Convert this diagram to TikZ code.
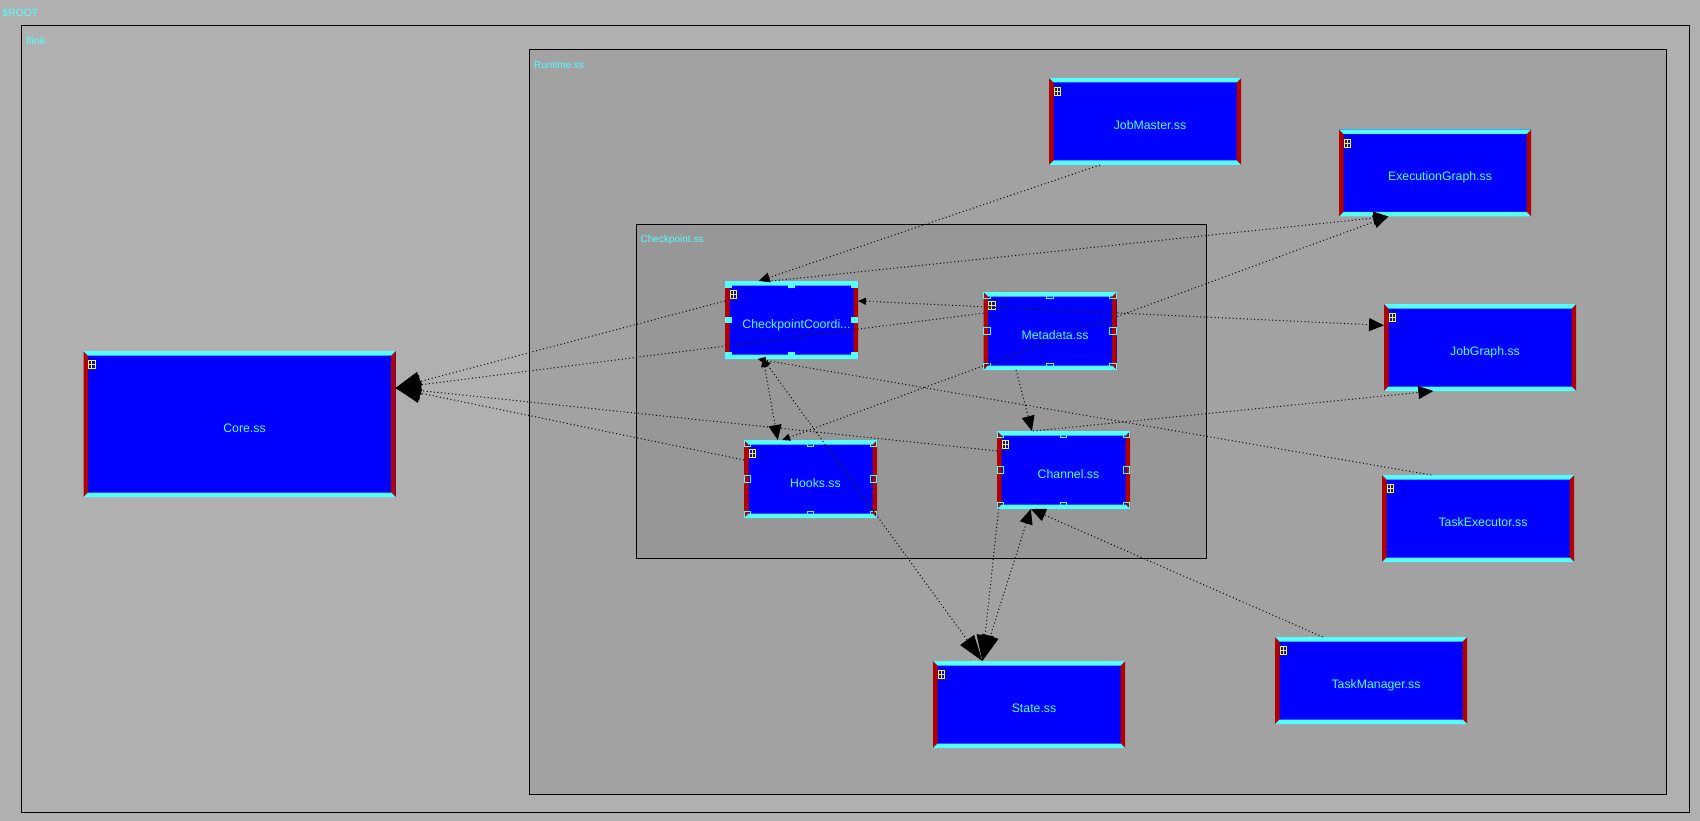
\documentclass[tikz,border=0pt]{standalone}
\usepackage{fontspec}
\setmainfont{Liberation Sans}
\usetikzlibrary{arrows.meta,calc}
\definecolor{bgouter}{HTML}{B0B0B0}
\definecolor{bgrun}{HTML}{A2A2A2}
\definecolor{bgcp}{HTML}{979797}
\definecolor{cyantxt}{HTML}{55FFFF}
\definecolor{barred}{HTML}{B00000}
\definecolor{boxblue}{HTML}{0000FF}
\definecolor{icony}{HTML}{FFFF00}
\newcommand{\boxtext}[1]{\hspace*{10pt}\smash{\raisebox{-8pt}{#1}}}
\tikzset{
  x=1pt,y=-1pt,
  frame/.style={draw=black,line width=1pt,inner sep=0pt,outer sep=0pt,anchor=north west},
  framelabel/.style={text=cyantxt,font=\fontsize{10}{12}\selectfont,inner sep=0pt,anchor=west},
  ssbox/.style={rectangle,fill=boxblue,inner sep=0pt,outer sep=0pt,text=cyantxt,
    font=\fontsize{12.3}{14}\selectfont,minimum width=#1,
    path picture={
      \coordinate (nwc) at (path picture bounding box.north west);
      \coordinate (nec) at (path picture bounding box.north east);
      \coordinate (swc) at (path picture bounding box.south west);
      \coordinate (sec) at (path picture bounding box.south east);
      \fill[barred] (nwc) -- ($(nwc)+(4.5,4.5)$) -- ($(swc)+(4.5,-4.5)$) -- (swc) -- cycle;
      \fill[barred] (nec) -- ($(nec)+(-4.5,4.5)$) -- ($(sec)+(-4.5,-4.5)$) -- (sec) -- cycle;
      \fill[cyantxt] (nwc) -- ($(nwc)+(4.5,4.5)$) -- ($(nec)+(-4.5,4.5)$) -- (nec) -- cycle;
      \fill[cyantxt] (swc) -- ($(swc)+(4.5,-4.5)$) -- ($(sec)+(-4.5,-4.5)$) -- (sec) -- cycle;
      \draw[icony,line width=0.9pt] ($(nwc)+(5,9.5)$) rectangle ($(nwc)+(11.5,17.5)$);
      \draw[icony,line width=0.9pt] ($(nwc)+(8.2,9.5)$) -- ($(nwc)+(8.2,17.5)$);
      \draw[icony,line width=0.9pt] ($(nwc)+(5,13.5)$) -- ($(nwc)+(11.5,13.5)$);
    }},
  bigbox/.style={ssbox=192pt,minimum height=87pt},
  smallbox/.style={ssbox=133pt,minimum height=78pt},
  corebox/.style={ssbox=312pt,minimum height=146pt},
  dep/.style={draw=black,line width=1pt,dash pattern=on 1pt off 2.6pt},
  headS/.tip={Triangle[length=8pt,width=7pt]},
  headJ/.tip={Triangle[length=11pt,width=10pt]},
  headM/.tip={Triangle[length=15pt,width=13pt]},
  headL/.tip={Triangle[length=25pt,width=20pt]},
  headC/.tip={Triangle[length=26pt,width=17pt]},
  hfill/.style={fill=cyantxt,draw=none},
  hopen/.style={draw=cyantxt,line width=1pt,fill=none},
}
% eight selection handles around a box
\newcommand{\handleset}[2]{%
  \path[#2] ($(#1.north west)+(0.4,0.4)$) rectangle ++(6.5,6.5);
  \path[#2] ($(#1.north)+(-3.2,0.4)$) rectangle ++(6.5,6.5);
  \path[#2] ($(#1.north east)+(-6.9,0.4)$) rectangle ++(6.5,6.5);
  \path[#2] ($(#1.west)+(0.4,-3.2)$) rectangle ++(6.5,6.5);
  \path[#2] ($(#1.east)+(-6.9,-3.2)$) rectangle ++(6.5,6.5);
  \path[#2] ($(#1.south west)+(0.4,-6.9)$) rectangle ++(6.5,6.5);
  \path[#2] ($(#1.south)+(-3.2,-6.9)$) rectangle ++(6.5,6.5);
  \path[#2] ($(#1.south east)+(-6.9,-6.9)$) rectangle ++(6.5,6.5);
}
\begin{document}
\begin{tikzpicture}
\useasboundingbox (0,0) rectangle (1700,821);
\fill[bgouter] (0,0) rectangle (1700,821);
% frames
\node[frame,fill=bgouter,minimum width=1668pt,minimum height=786.5pt] (flink) at (21.5,25.5) {};
\node[frame,fill=bgrun,minimum width=1137pt,minimum height=744.5pt] (runtime) at (529.5,49.5) {};
\node[frame,fill=bgcp,minimum width=570pt,minimum height=333.5pt] (cpframe) at (636.5,224.5) {};
\node[framelabel,font=\fontsize{10.5}{12}\selectfont] (rootlabel) at (2,12.7) {\$ROOT};
\node[framelabel,font=\fontsize{10.7}{12}\selectfont] (flinklabel) at (26,41) {flink};
\node[framelabel] (runtimelabel) at (534,64.7) {Runtime.ss};
\node[framelabel] (cpframelabel) at (640.5,239.5) {Checkpoint.ss};
% boxes
\node[corebox] (core) at (239.5,424) {\boxtext{Core.ss}};
\node[bigbox] (jm) at (1145,121.5) {\boxtext{JobMaster.ss}};
\node[bigbox] (eg) at (1435,173) {\boxtext{ExecutionGraph.ss}};
\node[bigbox] (jg) at (1480,347.5) {\boxtext{JobGraph.ss}};
\node[bigbox] (te) at (1478,518.5) {\boxtext{TaskExecutor.ss}};
\node[bigbox] (tm) at (1371,680.5) {\boxtext{TaskManager.ss}};
\node[bigbox] (st) at (1029,704.5) {\boxtext{State.ss}};
\node[smallbox] (cp) at (791.5,320) {\boxtext{CheckpointCoordi...}};
\node[smallbox] (md) at (1050,331) {\boxtext{Metadata.ss}};
\node[smallbox] (hk) at (810.5,479) {\boxtext{Hooks.ss}};
\node[smallbox] (ch) at (1063.5,470) {\boxtext{Channel.ss}};
% handles
\handleset{cp}{hfill}
\handleset{md}{hopen}
\handleset{hk}{hopen}
\handleset{ch}{hopen}
% connectors
\draw[dep,-{headJ}] (jm.224) -- (cp.130.7);
\draw[dep,-{headM}] (cp.117) -- (eg.223);
\draw[dep,{headS}-{headM}] (cp.16) -- (jg.167.5);
\draw[dep,{headS}-{headM}] (hk.126) -- (eg.223);
\draw[dep,-{headL}] (md.165) -- (core.13);
\draw[dep,-{headL}] (cp.164.9) -- (core.13);
\draw[dep,-{headL}] (hk.164) -- (core.13);
\draw[dep,-{headL}] (ch.164.6) -- (core.13);
\draw[dep,-{headM}] (ch.128.7) -- (jg.223);
\draw[dep,-{headS}] (te.137.2) -- (cp.229.3);
\draw[dep,{headS}-{headM}] (cp.234) -- (hk.130.7);
\draw[dep,{headS}-{headC}] (cp.234) -- (st.137.5);
\draw[dep,-{headM}] (md.229.8) -- (ch.129.7);
\draw[dep,-{headC}] (ch.211.7) -- (st.137.5);
\draw[dep,{headM}-{headC}] (ch.230) -- (st.137.5);
\draw[dep,-{headM}] (tm.138) -- (ch.230);
\end{tikzpicture}
\end{document}
